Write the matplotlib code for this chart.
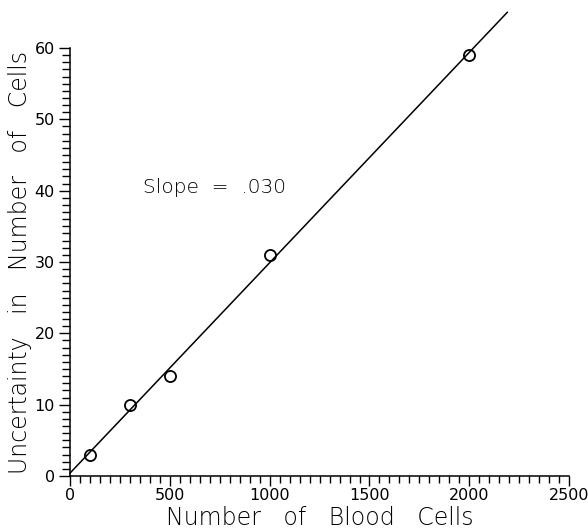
import numpy as np
import matplotlib.pyplot as plt
from matplotlib.ticker import MultipleLocator

plt.rcParams['font.family'] = ['DejaVu Sans']

# measured points
cells = [100, 300, 500, 1000, 2000]
uncert = [3, 10, 14, 31, 59]

# fitted line
fit_x = [0, 2190]
intercept = 0.4
slope = 0.0295

fig = plt.figure(figsize=(5.88, 5.29), dpi=100)
ax = fig.add_axes([0.119, 0.1002, 0.849, 0.809])

fx = np.array(fit_x)
ax.plot(fx, intercept + slope * fx, color='black', lw=1.1, clip_on=False)
ax.plot(cells, uncert, 'o', mfc='none', mec='black', ms=8, mew=1.3, clip_on=False)

ax.text(365, 39.7, "Slope  =  .030", fontsize=14.5, va='baseline', ha='left',
        fontweight='light')

ax.set_xlim(0, 2500)
ax.set_ylim(0, 60)
ax.xaxis.set_major_locator(MultipleLocator(500))
ax.xaxis.set_minor_locator(MultipleLocator(50))
ax.yaxis.set_major_locator(MultipleLocator(10))
ax.yaxis.set_minor_locator(MultipleLocator(1))

for s in ['top', 'right']:
    ax.spines[s].set_visible(False)
for s in ['left', 'bottom']:
    ax.spines[s].set_linewidth(1.1)

ax.tick_params(axis='x', which='major', direction='out', length=7.5, width=1, labelsize=11.5, pad=1)
ax.tick_params(axis='x', which='minor', direction='out', length=5, width=1)
ax.tick_params(axis='y', which='major', direction='out', length=8, width=1, labelsize=11.5, pad=3)
ax.tick_params(axis='y', which='minor', direction='out', length=5.5, width=1)

ax.set_xlabel("Number   of   Blood   Cells", fontsize=17, labelpad=2, fontweight='light')
ax.set_ylabel("Uncertainty   in   Number   of   Cells", fontsize=17, labelpad=2,
              fontweight='light')

fig.savefig("out.png", dpi=100)
